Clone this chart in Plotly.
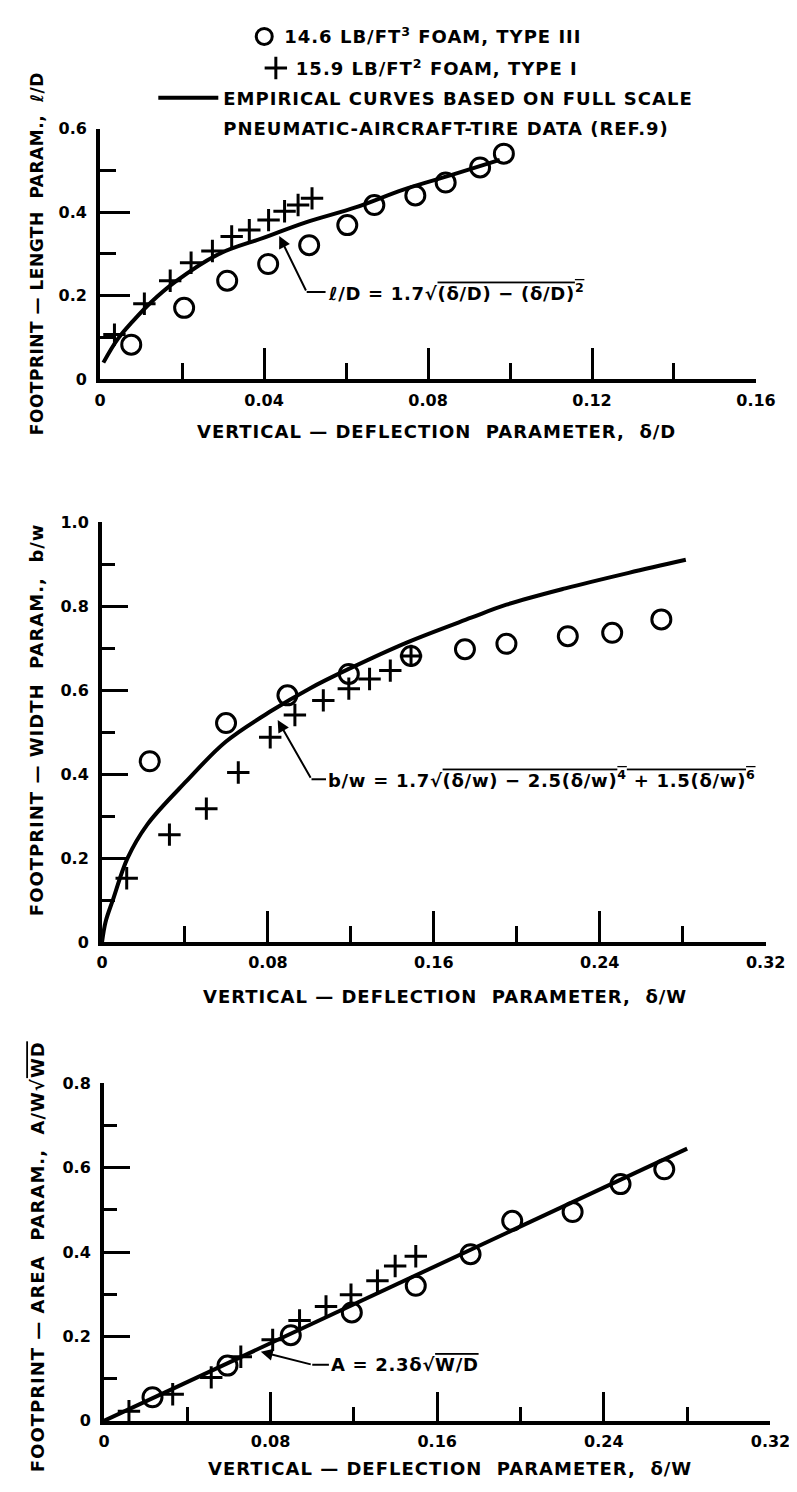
import plotly.graph_objects as go

W, H = 797, 1492
FONT = "DejaVu Sans"
BLACK = "black"

# ---------------- data ----------------
# Panel 1: footprint-length parameter l/D vs delta/D
p1_circle_x = [0.0076, 0.0205, 0.031, 0.041, 0.051, 0.0603, 0.0669, 0.0769, 0.0843, 0.0927, 0.0985]
p1_circle_y = [0.083, 0.171, 0.236, 0.276, 0.321, 0.369, 0.417, 0.440, 0.471, 0.507, 0.540]
p1_cross_x = [0.0035, 0.0108, 0.0171, 0.0222, 0.0274, 0.0321, 0.0364, 0.0411, 0.0450, 0.0483, 0.0517]
p1_cross_y = [0.107, 0.181, 0.236, 0.279, 0.307, 0.342, 0.357, 0.381, 0.402, 0.417, 0.433]
p1_curve_x = [0.0008, 0.0042, 0.0079, 0.0125, 0.0183, 0.029, 0.040, 0.050, 0.0625, 0.074, 0.0858, 0.0975]
p1_curve_y = [0.040, 0.095, 0.138, 0.185, 0.233, 0.300, 0.339, 0.375, 0.412, 0.454, 0.489, 0.525]

# Panel 2: footprint-width parameter b/w vs delta/w
p2_circle_x = [0.023, 0.0598, 0.0894, 0.119, 0.149, 0.175, 0.195, 0.2246, 0.246, 0.2697]
p2_circle_y = [0.431, 0.522, 0.588, 0.639, 0.682, 0.698, 0.711, 0.729, 0.737, 0.769]
p2_cross_x = [0.0119, 0.0325, 0.0503, 0.0657, 0.0811, 0.093, 0.1067, 0.119, 0.129, 0.139, 0.149]
p2_cross_y = [0.152, 0.256, 0.318, 0.404, 0.488, 0.541, 0.576, 0.604, 0.627, 0.647, 0.682]
p2_curve_x = [0.0, 0.0017, 0.0052, 0.0123, 0.0218, 0.0408, 0.0598, 0.0823, 0.100, 0.119,
              0.1475, 0.178, 0.195, 0.2234, 0.254, 0.2815]
p2_curve_y = [0.0, 0.048, 0.100, 0.200, 0.280, 0.384, 0.478, 0.553, 0.604, 0.651,
              0.715, 0.773, 0.804, 0.843, 0.880, 0.911]

# Panel 3: footprint-area parameter vs delta/w
p3_circle_x = [0.0233, 0.0593, 0.0897, 0.119, 0.1497, 0.176, 0.196, 0.225, 0.248, 0.269]
p3_circle_y = [0.056, 0.131, 0.203, 0.257, 0.320, 0.395, 0.474, 0.495, 0.561, 0.596]
p3_cross_x = [0.012, 0.033, 0.0515, 0.0657, 0.081, 0.0939, 0.1066, 0.1186, 0.1313, 0.1398, 0.1497]
p3_cross_y = [0.023, 0.063, 0.103, 0.152, 0.192, 0.238, 0.271, 0.299, 0.332, 0.367, 0.390]
p3_line_x = [0.0, 0.28]
p3_line_y = [0.0, 0.645]

# ticks
p1_xticks = [0, 0.04, 0.08, 0.12, 0.16]
p1_xlabels = ["0", "0.04", "0.08", "0.12", "0.16"]
p1_xminor = [0.02, 0.06, 0.10, 0.14]
p1_yticks = [0, 0.2, 0.4, 0.6]
p1_ylabels = ["0", "0.2", "0.4", "0.6"]
p1_yminor = [0.1, 0.3, 0.5]

p23_xticks = [0, 0.08, 0.16, 0.24, 0.32]
p23_xlabels = ["0", "0.08", "0.16", "0.24", "0.32"]
p23_xminor = [0.04, 0.12, 0.20, 0.28]
p2_yticks = [0, 0.2, 0.4, 0.6, 0.8, 1.0]
p2_ylabels = ["0", "0.2", "0.4", "0.6", "0.8", "1.0"]
p2_yminor = [0.1, 0.3, 0.5, 0.7, 0.9]
p3_yticks = [0, 0.2, 0.4, 0.6, 0.8]
p3_ylabels = ["0", "0.2", "0.4", "0.6", "0.8"]
p3_yminor = [0.1, 0.3, 0.5, 0.7]

legend_names = [
    "14.6 LB/FT<sup>3</sup> FOAM, TYPE III",
    "15.9 LB/FT<sup>2</sup> FOAM, TYPE I",
    "EMPIRICAL CURVES BASED ON FULL SCALE",
    "PNEUMATIC-AIRCRAFT-TIRE DATA (REF.9)",
]


def spaced(txt, ls=1.0):
    return f"<span style='letter-spacing:{ls}px'><b>{txt}</b></span>"


# ---------------- layout helpers ----------------
def px_x(p):
    return p / W


def px_y(p):
    return 1 - p / H


# panel pixel boxes: (left, right, top, bottom)
boxes = {
    1: (89, 767, 113, 367),
    2: (91, 777, 512, 937),
    3: (93, 782, 1080, 1422),
}

tickfont = dict(family=FONT, size=16, color=BLACK)


def axis_common(domain, rng, tickvals, ticktext, minor_vals, major_len, minor_len, anchor):
    return dict(
        domain=domain, range=rng, anchor=anchor,
        showline=True, linewidth=4, linecolor=BLACK,
        showgrid=False, zeroline=False,
        ticks="inside", ticklen=major_len, tickwidth=2.5, tickcolor=BLACK,
        tickmode="array", tickvals=tickvals, ticktext=[f"<b>{t}</b>" for t in ticktext],
        tickfont=tickfont,
        minor=dict(ticks="inside", ticklen=minor_len, tickwidth=2.5, tickcolor=BLACK,
                   tickmode="array", tickvals=minor_vals, showgrid=False),
        fixedrange=True,
    )


fig = go.Figure()

circle_marker = dict(symbol="circle-open", size=19, color=BLACK, line=dict(width=3, color=BLACK))
cross_marker = dict(symbol="cross-thin-open", size=16, color=BLACK, line=dict(width=3, color=BLACK))
curve_line = dict(color=BLACK, width=4)

# panel 1
fig.add_trace(go.Scatter(x=p1_curve_x, y=p1_curve_y, mode="lines", line=dict(curve_line, shape="spline"),
                         xaxis="x", yaxis="y", name=spaced(legend_names[2]), legend="legend3"))
fig.add_trace(go.Scatter(x=p1_circle_x, y=p1_circle_y, mode="markers", marker=circle_marker,
                         xaxis="x", yaxis="y", name=spaced(legend_names[0]), legend="legend"))
fig.add_trace(go.Scatter(x=p1_cross_x, y=p1_cross_y, mode="markers", marker=cross_marker,
                         xaxis="x", yaxis="y", name=spaced(legend_names[1]), legend="legend2"))
# second line of the curve legend entry (no symbol)
fig.add_trace(go.Scatter(x=[None], y=[None], mode="lines", line=dict(width=0, color="rgba(0,0,0,0)"),
                         xaxis="x", yaxis="y", name=spaced(legend_names[3]), legend="legend4",
                         hoverinfo="skip"))
# panel 2
fig.add_trace(go.Scatter(x=p2_curve_x, y=p2_curve_y, mode="lines", line=dict(curve_line, shape="spline"),
                         xaxis="x2", yaxis="y2", showlegend=False))
fig.add_trace(go.Scatter(x=p2_circle_x, y=p2_circle_y, mode="markers", marker=circle_marker,
                         xaxis="x2", yaxis="y2", showlegend=False))
fig.add_trace(go.Scatter(x=p2_cross_x, y=p2_cross_y, mode="markers", marker=cross_marker,
                         xaxis="x2", yaxis="y2", showlegend=False))
# panel 3
fig.add_trace(go.Scatter(x=p3_line_x, y=p3_line_y, mode="lines", line=curve_line,
                         xaxis="x3", yaxis="y3", showlegend=False))
fig.add_trace(go.Scatter(x=p3_circle_x, y=p3_circle_y, mode="markers", marker=circle_marker,
                         xaxis="x3", yaxis="y3", showlegend=False))
fig.add_trace(go.Scatter(x=p3_cross_x, y=p3_cross_y, mode="markers", marker=cross_marker,
                         xaxis="x3", yaxis="y3", showlegend=False))

layout = dict(width=W, height=H, autosize=False,
              margin=dict(l=0, r=0, t=0, b=0),
              paper_bgcolor="white", plot_bgcolor="white",
              font=dict(family=FONT, color=BLACK))

specs = {
    1: (p1_xticks, p1_xlabels, p1_xminor, [0, 0.16], p1_yticks, p1_ylabels, p1_yminor, [0, 0.6], 31, 16, 30, 16),
    2: (p23_xticks, p23_xlabels, p23_xminor, [0, 0.32], p2_yticks, p2_ylabels, p2_yminor, [0, 1.0], 31, 16, 26, 13),
    3: (p23_xticks, p23_xlabels, p23_xminor, [0, 0.32], p3_yticks, p3_ylabels, p3_yminor, [0, 0.8], 29, 14, 26, 13),
}
for i, (xt, xl, xm, xr, yt, yl, ym, yr, xmaj, xmin, ymaj, ymin) in specs.items():
    l, r, t, b = boxes[i]
    sfx = "" if i == 1 else str(i)
    layout["xaxis" + sfx] = axis_common([px_x(l), px_x(r)], xr, xt, xl, xm, xmaj, xmin, "y" + sfx)
    layout["yaxis" + sfx] = axis_common([px_y(b), px_y(t)], yr, yt, yl, ym, ymaj, ymin, "x" + sfx)
    layout["yaxis" + sfx]["ticklabelstandoff"] = 6
    layout["xaxis" + sfx]["ticklabelstandoff"] = 3

legfont = dict(family=FONT, size=18, color=BLACK)
leg_common = dict(xanchor="left", yanchor="middle", font=legfont,
                  bgcolor="rgba(0,0,0,0)", borderwidth=0)
layout["legend"] = dict(leg_common, x=px_x(238), y=px_y(20))
layout["legend2"] = dict(leg_common, x=px_x(250), y=px_y(52))
layout["legend3"] = dict(leg_common, x=px_x(144), y=px_y(82), itemwidth=60)
layout["legend4"] = dict(leg_common, x=px_x(144), y=px_y(113), itemwidth=60)

fig.update_layout(**layout)

# ---------------- titles ----------------
OV = "<span style='text-decoration:overline'>"
x_titles = [
    ("VERTICAL — DEFLECTION  PARAMETER,  δ/D", 437, 420),
    ("VERTICAL — DEFLECTION  PARAMETER,  δ/W", 446, 992),
    ("VERTICAL — DEFLECTION  PARAMETER,  δ/W", 451, 1470),
]
y_titles = [
    ("FOOTPRINT — LENGTH  PARAM.,  ℓ/D", 24, 240, 17, 0.5),
    ("FOOTPRINT — WIDTH  PARAM.,  b/w", 24, 712, 18, 1.0),
    ("FOOTPRINT — AREA  PARAM.,  A/W√" + OV + "WD</span>", 24, 1256, 18, 1.0),
]
for txt, x, y in x_titles:
    fig.add_annotation(text=spaced(txt, 1), x=px_x(x), y=px_y(y), xref="paper", yref="paper",
                       showarrow=False, font=dict(family=FONT, size=18, color=BLACK),
                       xanchor="center", yanchor="middle")
for txt, x, y, fs, ls in y_titles:
    fig.add_annotation(text=spaced(txt, ls), x=px_x(x), y=px_y(y), xref="paper", yref="paper",
                       showarrow=False, font=dict(family=FONT, size=fs, color=BLACK),
                       textangle=-90, xanchor="center", yanchor="middle")

# ---------------- equation call-outs ----------------
eq_font = dict(family=FONT, size=18, color=BLACK)
callouts = [
    # (axes, tip, elbow, label start, text)
    (("x", "y"), (0.0437, 0.343), (0.0504, 0.209), (0.0550, 0.209),
     "ℓ/D = 1.7√" + OV + "(δ/D) − (δ/D)<sup>2</sup></span>"),
    (("x2", "y2"), (0.0847, 0.529), (0.101, 0.388), (0.108, 0.388),
     "b/w = 1.7√" + OV + "(δ/w) − 2.5(δ/w)<sup>4</sup> + 1.5(δ/w)<sup>6</sup></span>"),
    (("x3", "y3"), (0.0753, 0.164), (0.100, 0.133), (0.108, 0.133),
     "A = 2.3δ√" + OV + "W/D</span>"),
]
for (xa, ya), tip, elbow, lab, txt in callouts:
    fig.add_annotation(x=tip[0], y=tip[1], ax=elbow[0], ay=elbow[1], xref=xa, yref=ya,
                       axref=xa, ayref=ya, text="", showarrow=True, arrowhead=2,
                       arrowsize=1.2, arrowwidth=2, arrowcolor=BLACK)
    fig.add_shape(type="line", x0=elbow[0], y0=elbow[1], x1=lab[0], y1=lab[1], xref=xa, yref=ya,
                  line=dict(color=BLACK, width=2))
    fig.add_annotation(x=lab[0], y=lab[1], xref=xa, yref=ya, text=spaced(txt, 0.7), showarrow=False,
                       xanchor="left", yanchor="middle", font=eq_font)

fig.write_html("out.html")
